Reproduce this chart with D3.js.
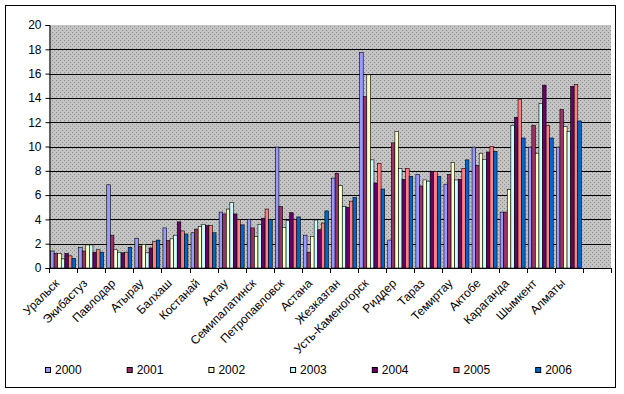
<!DOCTYPE html>
<html>
<head>
<meta charset="utf-8">
<script src="https://cdn.jsdelivr.net/npm/d3@7"></script>
<style>
  body { margin: 0; background: #fff; }
  text { font-family: Arial, "Liberation Sans", sans-serif; font-size: 11px; fill: #000; }
</style>
</head>
<body>
<svg width="624" height="394"></svg>
<script>
// cities (last slot is empty, as in the original sheet)
const cities = ['Уральск', 'Экибастуз', 'Павлодар', 'Атырау', 'Балхаш', 'Костанай', 'Актау',
  'Семипалатинск', 'Петропавловск', 'Астана', 'Жезказган', 'Усть-Каменогорск', 'Риддер', 'Тараз',
  'Темиртау', 'Актобе', 'Караганда', 'Шымкент', 'Алматы', ''];
const years = ['2000', '2001', '2002', '2003', '2004', '2005', '2006'];
const colors = ['#9999ff', '#993366', '#ffffcc', '#ccffff', '#660066', '#ff8080', '#0066cc'];
const yTicks = [0, 2, 4, 6, 8, 10, 12, 14, 16, 18, 20];

// one array per year, in city order
const v2000 = [1.4, 1.7, 6.85, 2.45, 3.3, 2.9, 4.6, 4.0, 9.95, 2.7, 7.4, 17.75, 2.3, 7.7, 6.9, 9.95, 4.6, 9.95, 9.95];
const v2001 = [1.2, 1.4, 2.7, 1.8, 2.25, 3.2, 4.45, 3.3, 5.05, 1.3, 7.8, 14.1, 10.3, 6.75, 7.7, 8.45, 4.6, 11.75, 13.05];
const v2002 = [1.2, 1.9, 1.5, 1.95, 2.4, 3.4, 4.85, 2.6, 3.35, 2.6, 6.8, 15.9, 11.25, 7.25, 8.7, 9.45, 6.45, 9.45, 11.65];
const v2003 = [0.75, 1.9, 1.3, 1.25, 2.7, 3.6, 5.4, 3.6, 3.9, 3.95, 5.05, 8.9, 8.2, 7.15, 7.25, 8.95, 11.75, 13.55, 11.25];
const v2004 = [1.2, 1.3, 1.25, 1.65, 3.8, 3.5, 4.45, 4.1, 4.55, 3.15, 5.0, 7.0, 7.3, 7.95, 7.3, 9.55, 12.4, 15.05, 14.95];
const v2005 = [1.0, 1.5, 1.3, 2.2, 3.05, 3.5, 4.0, 4.85, 4.0, 3.7, 5.5, 8.6, 8.2, 7.95, 8.2, 10.0, 13.9, 11.75, 15.1];
const v2006 = [0.8, 1.3, 1.7, 2.3, 2.8, 2.9, 3.55, 4.0, 4.2, 4.7, 5.8, 6.5, 7.55, 7.55, 8.9, 9.6, 10.7, 10.7, 12.1];
const series = [v2000, v2001, v2002, v2003, v2004, v2005, v2006];

const svg = d3.select('svg');

// outer frame
svg.append('rect')
  .attr('x', 5.5).attr('y', 5.5)
  .attr('width', 610).attr('height', 382)
  .attr('fill', '#fff').attr('stroke', '#000');

// dotted grey fill of the plot area
const defs = svg.append('defs');
const pat = defs.append('pattern')
  .attr('id', 'dots').attr('width', 4).attr('height', 4)
  .attr('patternUnits', 'userSpaceOnUse');
pat.append('rect').attr('width', 4).attr('height', 4).attr('fill', '#c4c4c4');
pat.append('rect').attr('x', 0).attr('y', 0).attr('width', 1).attr('height', 1).attr('fill', '#8c8c8c');
pat.append('rect').attr('x', 2).attr('y', 2).attr('width', 1).attr('height', 1).attr('fill', '#8c8c8c');

const plotL = 49, plotR = 611, plotT = 25, plotB = 268;

const y = d3.scaleLinear().domain([0, 20]).range([plotB, plotT]);

const x0 = d3.scaleBand()
  .domain(cities)
  .range([plotL, plotR])
  .paddingInner(0.11)
  .paddingOuter(0.055);

const x1 = d3.scaleBand()
  .domain(years)
  .range([0, x0.bandwidth()]);

svg.append('rect')
  .attr('x', plotL).attr('y', plotT)
  .attr('width', plotR - plotL).attr('height', plotB - plotT)
  .attr('fill', 'url(#dots)');

// gridlines
svg.append('g')
  .selectAll('line')
  .data(yTicks.filter(d => d > 0 && d < 20))
  .join('line')
    .attr('x1', plotL).attr('x2', plotR)
    .attr('y1', d => Math.round(y(d)) + 0.5)
    .attr('y2', d => Math.round(y(d)) + 0.5)
    .attr('stroke', '#000');

// bars
const groups = svg.append('g')
  .selectAll('g')
  .data(cities.filter(c => c !== ''))
  .join('g')
    .attr('transform', d => `translate(${x0(d)},0)`);

groups.selectAll('rect')
  .data((c, i) => years.map((yr, j) => ({ yr, j, v: series[j][i] })))
  .join('rect')
    .attr('x', d => x1(d.yr))
    .attr('y', d => y(d.v))
    .attr('width', x1.bandwidth())
    .attr('height', d => plotB - y(d.v))
    .attr('fill', d => colors[d.j])
    .attr('stroke', '#000')
    .attr('stroke-width', 0.6);

// y axis
const yAxis = svg.append('g')
  .attr('transform', `translate(${plotL + 0.5},0)`)
  .call(d3.axisLeft(y).tickValues(yTicks).tickSize(4).tickPadding(4));
yAxis.select('.domain').attr('stroke', '#000');
yAxis.selectAll('.tick line').attr('stroke', '#000');
yAxis.selectAll('text').style('font-size', '12px');

// x axis line and ticks at category borders
const xStep = x0.step();
svg.append('line')
  .attr('x1', plotL).attr('x2', plotR)
  .attr('y1', plotB + 0.5).attr('y2', plotB + 0.5)
  .attr('stroke', '#000');
svg.append('g')
  .selectAll('line')
  .data(d3.range(cities.length + 1))
  .join('line')
    .attr('x1', i => Math.round(plotL + i * xStep) + 0.5)
    .attr('x2', i => Math.round(plotL + i * xStep) + 0.5)
    .attr('y1', plotB).attr('y2', plotB + 5)
    .attr('stroke', '#000');

// rotated city labels
svg.append('g')
  .selectAll('text')
  .data(cities.filter(c => c !== ''))
  .join('text')
    .attr('text-anchor', 'end')
    .style('font-size', '12px')
    .attr('transform', d => `translate(${x0(d) + x0.bandwidth() / 2 - 3},${plotB + 16}) rotate(-45)`)
    .text(d => d);

// legend
const legend = svg.append('g')
  .selectAll('g')
  .data(years)
  .join('g')
    .attr('transform', (d, i) => `translate(${45 + i * 81.7},370)`);
legend.append('rect')
  .attr('x', 0.5).attr('y', -2.5)
  .attr('width', 5).attr('height', 5)
  .attr('fill', (d, i) => colors[i])
  .attr('stroke', '#000');
legend.append('text')
  .attr('x', 10).attr('y', 4)
  .style('font-size', '12px')
  .text(d => d);
</script>
</body>
</html>
